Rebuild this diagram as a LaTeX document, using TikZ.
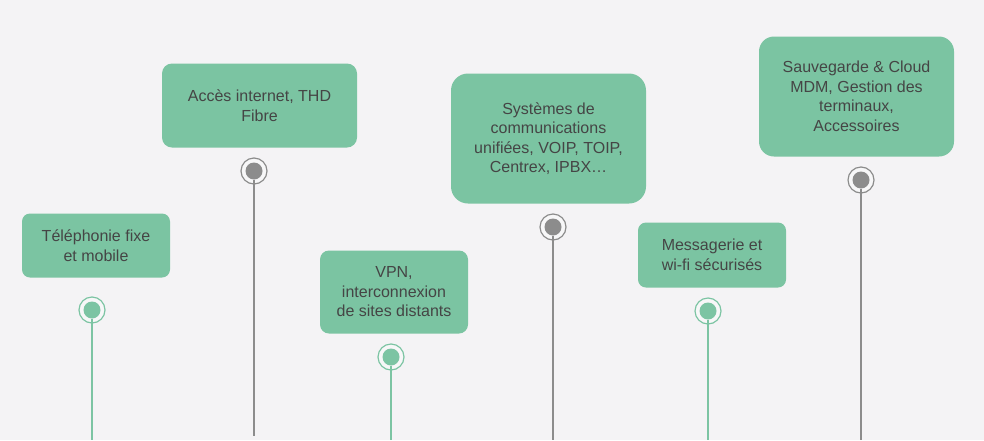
\documentclass[tikz,border=0pt]{standalone}
\usepackage{fontspec}
\setmainfont{Liberation Sans}
\definecolor{bg}{HTML}{F4F3F5}
\definecolor{boxg}{HTML}{7BC4A2}
\definecolor{txt}{HTML}{454545}
\definecolor{lineg}{HTML}{7CC4A3}
\definecolor{lgray}{HTML}{8C8C8C}
\definecolor{ringbg}{HTML}{F7F7F8}
\begin{document}
\begin{tikzpicture}[x=1pt,y=-1pt,
  card/.style={rectangle, fill=boxg, text=txt, align=center, inner sep=0pt,
    font=\fontsize{16}{19.5}\selectfont},
  ring/.style={circle, minimum size=26pt, inner sep=0pt, line width=1.2pt, fill=ringbg},
  greenring/.style={ring, draw=lineg},
  grayring/.style={ring, draw=lgray},
  dot/.style={circle, minimum size=17pt, inner sep=0pt},
  gline/.style={draw=lineg, line width=2pt},
  yline/.style={draw=lgray, line width=2pt}]
\fill[bg] (0,0) rectangle (984,440);
\useasboundingbox (0,0) rectangle (984,440);

% cards
\node[card, rounded corners=8pt, minimum width=148pt, minimum height=64pt] (b1) at (96,245.5) {Téléphonie fixe\\et mobile};
\node[card, rounded corners=10pt, minimum width=195pt, minimum height=84pt] (b2) at (259.5,105.5) {Accès internet, THD\\Fibre};
\node[card, rounded corners=9pt, minimum width=148pt, minimum height=83pt] (b3) at (394,292) {VPN,\\interconnexion\\de sites distants};
\node[card, rounded corners=17pt, minimum width=195pt, minimum height=130pt] (b4) at (548.5,138.5) {Systèmes de\\communications\\unifiées, VOIP, TOIP,\\Centrex, IPBX…};
\node[card, rounded corners=8pt, minimum width=148pt, minimum height=65pt] (b5) at (712,255) {Messagerie et\\wi-fi sécurisés};
\node[card, rounded corners=15pt, minimum width=195pt, minimum height=120pt] (b6) at (856.5,96.5) {Sauvegarde \& Cloud\\MDM, Gestion des\\terminaux,\\Accessoires};

% markers
\node[greenring] (c1) at (92,310) {};
\node[dot, fill=lineg] (d1) at (c1) {};
\node[grayring] (c2) at (254,171) {};
\node[dot, fill=lgray] (d2) at (c2) {};
\node[greenring] (c3) at (391,357) {};
\node[dot, fill=lineg] (d3) at (c3) {};
\node[grayring] (c4) at (553,227) {};
\node[dot, fill=lgray] (d4) at (c4) {};
\node[greenring] (c5) at (708,311) {};
\node[dot, fill=lineg] (d5) at (c5) {};
\node[grayring] (c6) at (861,180) {};
\node[dot, fill=lgray] (d6) at (c6) {};

% line ends
\coordinate (e1) at (92,440);
\coordinate (e2) at (254,436);
\coordinate (e3) at (391,440);
\coordinate (e4) at (553,440);
\coordinate (e5) at (708,440);
\coordinate (e6) at (861,440);

\draw[gline] (d1.south) -- (e1);
\draw[yline] (d2.south) -- (e2);
\draw[gline] (d3.south) -- (e3);
\draw[yline] (d4.south) -- (e4);
\draw[gline] (d5.south) -- (e5);
\draw[yline] (d6.south) -- (e6);
\end{tikzpicture}
\end{document}
